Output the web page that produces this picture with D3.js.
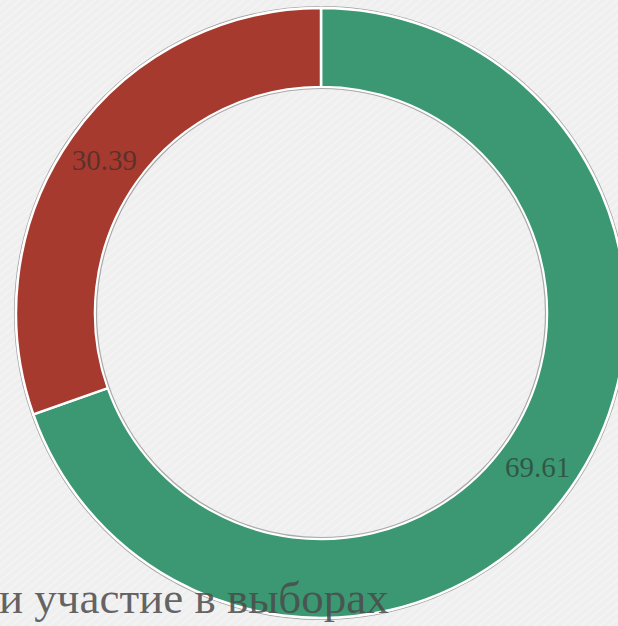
<!DOCTYPE html>
<html>
<head>
<meta charset="utf-8">
<script src="https://cdn.jsdelivr.net/npm/d3@7"></script>
<style>
  html, body { margin: 0; padding: 0; background: #efefef; overflow: hidden; }
  svg { display: block; }
</style>
</head>
<body>
<svg id="chart" width="618" height="626"></svg>
<script>
// Share of respondents: green = 69.61, red = 30.39
const categories = ["Участвуют", "Не участвуют"];
const values = [69.61, 30.39];
const colors = ["#3b9872", "#a63a2f"];
const caption = "и участие в выборах";

const svg = d3.select("#chart");
const W = 618, H = 626;

// light textured backdrop
const defs = svg.append("defs");
const pat = defs.append("pattern")
  .attr("id", "grain").attr("width", 6).attr("height", 6)
  .attr("patternUnits", "userSpaceOnUse")
  .attr("patternTransform", "rotate(-40)");
pat.append("rect").attr("width", 6).attr("height", 6).attr("fill", "#efefef");
pat.append("rect").attr("width", 6).attr("height", 2).attr("fill", "#f3f3f3");
svg.append("rect").attr("width", W).attr("height", H).attr("fill", "url(#grain)");

const cx = 321, cy = 313;
const outerR = 305, innerR = 226;

const pie = d3.pie().sort(null).value(d => d);
const arc = d3.arc().innerRadius(innerR).outerRadius(outerR);
const arcs = pie(values);

const g = svg.append("g").attr("transform", `translate(${cx},${cy})`);

// soft grey rims around the ring
g.append("circle").attr("r", outerR + 1.5).attr("fill", "none")
  .attr("stroke", "#a9a9a9").attr("stroke-width", 1.2);

g.selectAll("path.slice")
  .data(arcs)
  .join("path")
  .attr("class", "slice")
  .attr("d", arc)
  .attr("fill", (d, i) => colors[i])
  .attr("stroke", "#ffffff")
  .attr("stroke-width", 2.5);

g.append("circle").attr("r", innerR - 1.5).attr("fill", "none")
  .attr("stroke", "#a9a9a9").attr("stroke-width", 1.2);

// value labels at slice centroids
g.selectAll("text.val")
  .data(arcs)
  .join("text")
  .attr("class", "val")
  .attr("transform", d => `translate(${arc.centroid(d)})`)
  .attr("text-anchor", "middle")
  .attr("dy", "0.35em")
  .attr("font-family", "'Liberation Serif', 'DejaVu Serif', serif")
  .attr("font-size", 29)
  .attr("fill", "#2a2a2a")
  .attr("fill-opacity", 0.6)
  .text(d => d3.format(".2f")(d.data));

// caption line along the bottom edge
svg.append("text")
  .attr("x", -1)
  .attr("y", 613)
  .attr("font-family", "'Liberation Serif', 'DejaVu Serif', serif")
  .attr("font-size", 45)
  .attr("fill", "#4a4a4a")
  .attr("fill-opacity", 0.85)
  .text(caption);
</script>
</body>
</html>
